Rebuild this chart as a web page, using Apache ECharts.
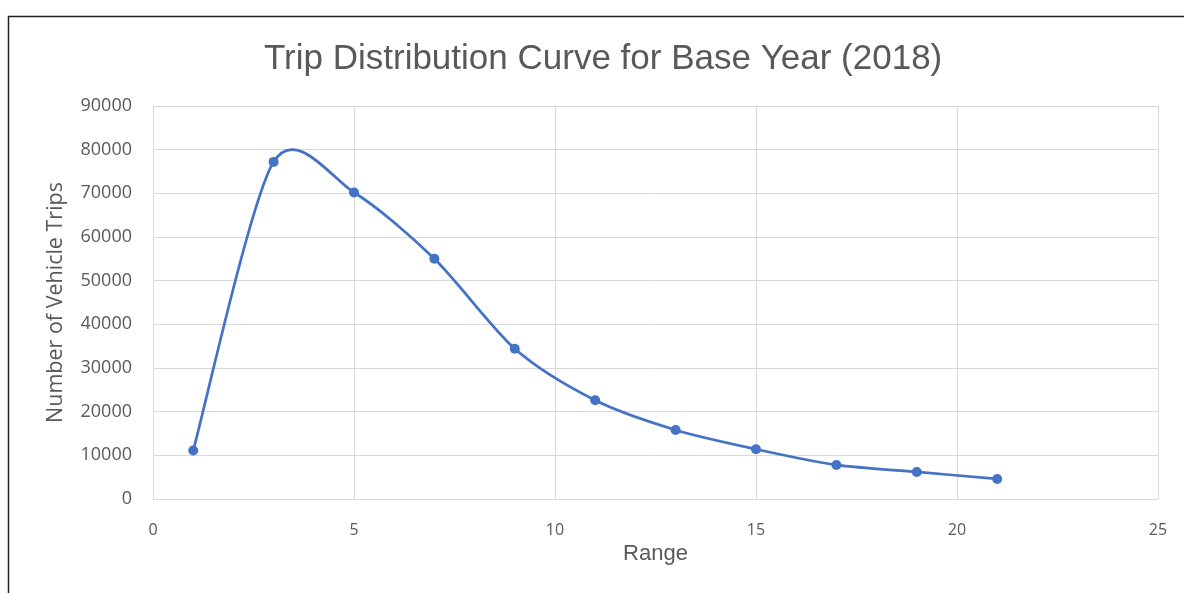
<!DOCTYPE html>
<html><head><meta charset="utf-8">
<script src="https://cdn.jsdelivr.net/npm/echarts@6/dist/echarts.min.js"></script>
<style>html,body{margin:0;padding:0;background:#fff}#c{width:1184px;height:593px}</style>
</head><body><div id="c"></div>
<script>
const ranges = [1, 3, 5, 7, 9, 11, 13, 15, 17, 19, 21];
const trips = [11100, 77200, 70200, 55000, 34400, 22600, 15800, 11400, 7800, 6200, 4600];
const titleText = 'Trip Distribution Curve for Base Year (2018)';
const xName = 'Range';
const yName = 'Number of Vehicle Trips';

const chart = echarts.init(document.getElementById('c'));
const grey = '#595959';
const blue = '#4472C4';
const T = 0.14;

function renderSeg(params, api) {
  const i = params.dataIndex;
  const n = ranges.length;
  if (i >= n - 1) return null;
  const P = ranges.map((x, k) => api.coord([x, trips[k]]));
  const p0 = P[Math.max(i - 1, 0)], p1 = P[i], p2 = P[i + 1], p3 = P[Math.min(i + 2, n - 1)];
  return {
    type: 'bezierCurve',
    shape: {
      x1: p1[0], y1: p1[1], x2: p2[0], y2: p2[1],
      cpx1: p1[0] + (p2[0] - p0[0]) * T, cpy1: p1[1] + (p2[1] - p0[1]) * T,
      cpx2: p2[0] - (p3[0] - p1[0]) * T, cpy2: p2[1] - (p3[1] - p1[1]) * T
    },
    style: { stroke: blue, lineWidth: 2.75, fill: null }
  };
}

chart.setOption({
  animation: false,
  title: { text: titleText, left: 259, top: 37,
    textStyle: { fontFamily: 'Liberation Sans, Arial, sans-serif', fontSize: 35, fontWeight: 'normal', color: grey } },
  graphic: [{ type: 'rect', left: 6, top: 14, shape: { width: 1300, height: 700 },
    style: { fill: 'none', stroke: '#222', lineWidth: 1.5 }, silent: true }],
  grid: { left: 153, right: 26, top: 106, bottom: 94 },
  xAxis: { type: 'value', min: 0, max: 25, interval: 5,
    name: xName, nameLocation: 'middle', nameGap: 35,
    nameTextStyle: { fontFamily: 'Liberation Sans, Arial, sans-serif', fontSize: 22, color: grey },
    axisLine: { show: true, lineStyle: { color: '#d9d9d9', width: 1 } },
    axisTick: { show: false },
    axisLabel: { color: grey, fontSize: 16, margin: 23, fontFamily: 'Open Sans, sans-serif' },
    splitLine: { show: true, lineStyle: { color: '#d9d9d9', width: 1 } } },
  yAxis: { type: 'value', min: 0, max: 90000, interval: 10000,
    name: yName, nameLocation: 'middle', nameGap: 86, nameRotate: 90,
    nameTextStyle: { fontFamily: 'Open Sans, sans-serif', fontSize: 21.5, color: grey },
    axisLine: { show: false }, axisTick: { show: false },
    axisLabel: { color: grey, fontSize: 18, margin: 21, fontFamily: 'Open Sans, sans-serif',
      formatter: v => String(v) },
    splitLine: { show: true, lineStyle: { color: '#d9d9d9', width: 1 } } },
  series: [
    { type: 'custom', data: ranges.map((x, i) => [x, trips[i]]), renderItem: renderSeg,
      encode: { x: 0, y: 1 }, z: 2 },
    { type: 'scatter', data: ranges.map((x, i) => [x, trips[i]]),
      symbol: 'circle', symbolSize: 10, itemStyle: { color: blue, opacity: 1 }, z: 3 }
  ]
});
</script></body></html>
